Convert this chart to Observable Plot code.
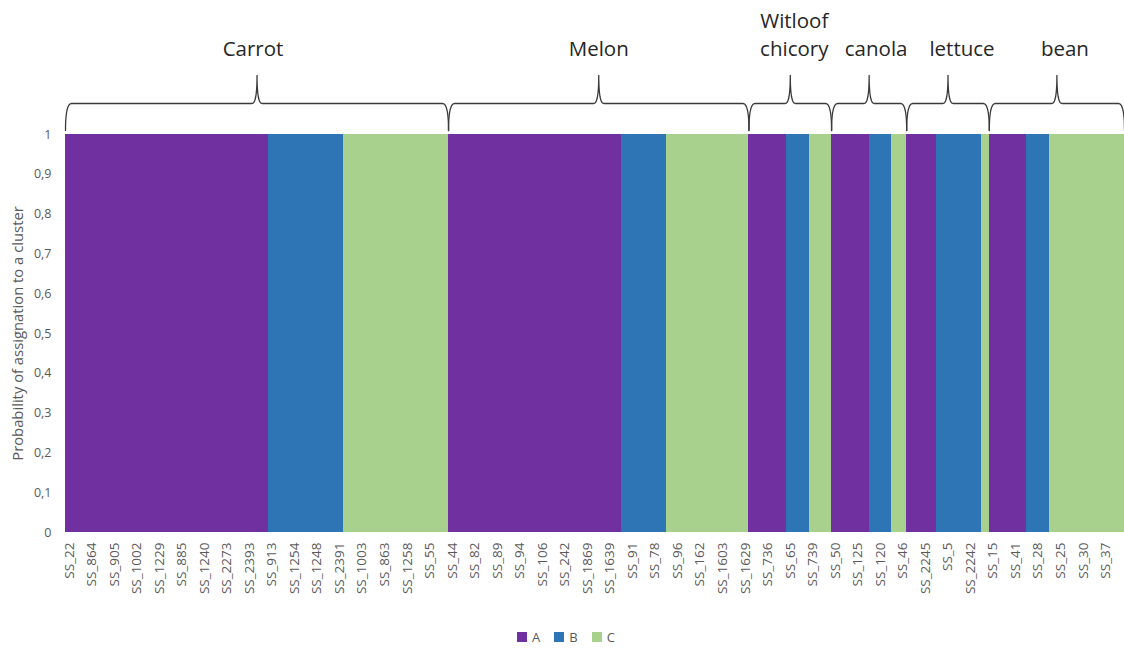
<!DOCTYPE html>
<html>
<head>
<meta charset="utf-8">
<script src="https://cdn.jsdelivr.net/npm/d3@7"></script>
<script src="https://cdn.jsdelivr.net/npm/@observablehq/plot@0.6"></script>
<style>
  html, body { margin: 0; padding: 0; background: #fff; }
  body { width: 1124px; height: 653px; overflow: hidden; font-family: "Open Sans", sans-serif; }
  #legend { display: flex; justify-content: center; align-items: center; gap: 14px;
            margin-top: 19px; height: 16px; font-size: 13px; color: #595959; padding-left: 8px; }
  #legend span.item { display: inline-flex; align-items: center; gap: 5px; }
  #legend span.sw { width: 10px; height: 10px; display: inline-block; }
</style>
</head>
<body>
<div id="chart"></div>
<div id="legend"></div>
<script>
// ---- data ----
const groups = ["Carrot", "Melon", "Witloof\nchicory", "canola", "lettuce", "bean"];
const clusters = ["A", "B", "C"];
const countA = [27, 23, 5, 5, 4, 5];   // number of samples assigned to cluster A per group
const countB = [10, 6, 3, 3, 6, 3];
const countC = [14, 11, 3, 2, 1, 10];
const probability = 1;                 // every sample assigned with probability 1
const tickLabels = [
  "SS_22","SS_864","SS_905","SS_1002","SS_1229","SS_885","SS_1240","SS_2273","SS_2393",
  "SS_913","SS_1254","SS_1248","SS_2391","SS_1003","SS_863","SS_1258","SS_55",
  "SS_44","SS_82","SS_89","SS_94","SS_106","SS_242","SS_1869","SS_1639","SS_91","SS_78",
  "SS_96","SS_162","SS_1603","SS_1629",
  "SS_736","SS_65","SS_739",
  "SS_50","SS_125","SS_120","SS_46",
  "SS_2245","SS_5","SS_2242",
  "SS_15","SS_41","SS_28","SS_25","SS_30","SS_37"
];
const yTicks = [0, 0.1, 0.2, 0.3, 0.4, 0.5, 0.6, 0.7, 0.8, 0.9, 1];
const clusterColors = ["#7030A0", "#2E75B6", "#A9D18E"];

// ---- derived tables ----
const bars = [];
const bounds = [];
let idx = 0;
groups.forEach((g, gi) => {
  const start = idx;
  const counts = [countA[gi], countB[gi], countC[gi]];
  clusters.forEach((c, ci) => {
    for (let k = 0; k < counts[ci]; k++) bars.push({i: idx++, group: g, cluster: c, p: probability});
  });
  bounds.push({group: g, x0: start, x1: idx});
});
const N = idx;
const labelEvery = 3;
const tickPos = tickLabels.map((_, k) => k * labelEvery + 0.5);

// ---- layout ----
const W = 1124, H = 610, ML = 65, MR = 0, MT = 134, MB = 78;
const xUnit = (W - ML - MR) / N;     // px per bar
const yUnit = (H - MT - MB);         // px per probability unit
const labelDx = [-4, 0, 4, 7, 14, 8];

function quad(p0, c, p1, n = 10) {
  const out = [];
  for (let s = 0; s <= n; s++) {
    const t = s / n;
    out.push([
      (1-t)*(1-t)*p0[0] + 2*(1-t)*t*c[0] + t*t*p1[0],
      (1-t)*(1-t)*p0[1] + 2*(1-t)*t*c[1] + t*t*p1[1]
    ]);
  }
  return out;
}
const braces = [];
bounds.forEach(b => {
  const e = 6 / xUnit, m = 5 / xUnit, xm = (b.x0 + b.x1) / 2;
  const yEnd = 4, yBar = 31, yPeak = 59;
  const pts = [
    ...quad([b.x0, yEnd], [b.x0, yBar], [b.x0 + e, yBar]),
    ...quad([xm - m, yBar], [xm, yBar], [xm, yPeak]),
    ...quad([xm, yPeak], [xm, yBar], [xm + m, yBar]),
    ...quad([b.x1 - e, yBar], [b.x1, yBar], [b.x1, yEnd])
  ];
  pts.forEach(([x, py]) => braces.push({group: b.group, x, y: 1 + py / yUnit}));
});
const groupLabels = bounds.map((b, k) => ({
  text: b.group,
  x: (b.x0 + b.x1) / 2 + labelDx[k] / xUnit,
  y: 1 + 79 / yUnit
}));

const chart = Plot.plot({
  width: W, height: H,
  marginLeft: ML, marginRight: MR, marginTop: MT, marginBottom: MB,
  style: {fontFamily: "'Open Sans', sans-serif", fontSize: "12px", color: "#595959", background: "#fff"},
  x: {domain: [0, N], axis: null},
  y: {domain: [0, 1], axis: null},
  color: {domain: clusters, range: clusterColors},
  marks: [
    Plot.rect(bars, {x1: "i", x2: d => d.i + 1, y1: 0, y2: "p", fill: "cluster", shapeRendering: "crispEdges"}),
    Plot.axisY({ticks: yTicks, tickSize: 0, tickPadding: 14, fontSize: 12.5, label: null,
      tickFormat: d => (Math.round(d * 10) / 10).toString().replace(".", ",")}),
    Plot.axisX({ticks: tickPos, tickSize: 0, tickPadding: 10, tickRotate: -90, fontSize: 13.5, label: null,
      tickFormat: d => tickLabels[Math.round((d - 0.5) / labelEvery)]}),
    Plot.text(["Probability of assignation to a cluster"], {frameAnchor: "left", textAnchor: "middle",
      rotate: -90, dx: -47, fontSize: 14.8, fill: "#595959"}),
    Plot.line(braces, {x: "x", y: "y", z: "group", stroke: "#3a3a3a", strokeWidth: 1.3}),
    Plot.text(groupLabels, {x: "x", y: "y", text: "text", lineAnchor: "bottom", lineHeight: 1.36,
      fontSize: 20.5, fill: "#262626"})
  ]
});
document.getElementById("chart").appendChild(chart);

const legend = document.getElementById("legend");
clusters.forEach((c, k) => {
  const it = document.createElement("span");
  it.className = "item";
  it.innerHTML = `<span class="sw" style="background:${clusterColors[k]}"></span>${c}`;
  legend.appendChild(it);
});
</script>
</body>
</html>
